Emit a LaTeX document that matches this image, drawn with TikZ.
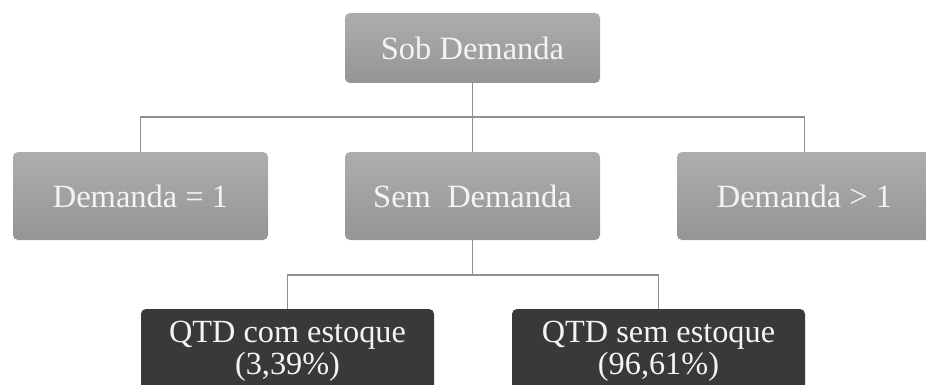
\documentclass[tikz,border=0pt]{standalone}
\usepackage{fontspec}
\setmainfont{Liberation Serif}
\definecolor{boxtop}{HTML}{ADADAD}
\definecolor{boxbot}{HTML}{959595}
\definecolor{darkbox}{HTML}{3B3938}
\definecolor{linkgray}{HTML}{909090}
\definecolor{boxtext}{HTML}{F4F4F4}
\begin{document}
\begin{tikzpicture}[x=1pt,y=-1pt,
  greybox/.style={rectangle, rounded corners=5pt, draw=none,
    top color=boxtop, bottom color=boxbot, text=boxtext,
    minimum width=255pt, inner sep=0pt,
    font=\fontsize{32.5}{33}\selectfont, align=center},
  darkboxstyle/.style={rectangle, rounded corners=5pt, draw=none,
    fill=darkbox, minimum width=293pt, minimum height=88pt, inner sep=0pt},
  darktext/.style={text=boxtext, font=\fontsize{32.3}{32}\selectfont,
    align=center, anchor=north, inner sep=0pt},
  link/.style={draw=linkgray, line width=1.4pt}]
\useasboundingbox (0,0) rectangle (926,385);
\begin{scope}
\clip (0,0) rectangle (926,385);

% hierarchy boxes
\node[greybox, minimum height=70pt] (top) at (472.5,48) {Sob Demanda};
\node[greybox, minimum height=88pt] (left) at (140.5,196) {Demanda = 1};
\node[greybox, minimum height=88pt] (mid) at (472.5,196) {Sem\ \ Demanda};
\node[greybox, minimum height=88pt] (right) at (804.5,196) {Demanda > 1};
\node[darkboxstyle] (qcom) at (287.5,353) {};
\node[darkboxstyle] (qsem) at (658.5,353) {};
\node[darktext] (qcomtxt) at (287.5,321) {QTD com estoque\\(3,39\%)};
\node[darktext] (qsemtxt) at (658.5,321) {QTD sem estoque\\(96,61\%)};

% connectors
\coordinate (busA) at (472.5,117);
\coordinate (busB) at (472.5,275);
\draw[link] (top.south) -- (busA);
\draw[link] (left.north) |- (busA) -| (right.north);
\draw[link] (busA) -- (mid.north);
\draw[link] (mid.south) -- (busB);
\draw[link] (qcom.north) |- (busB) -| (qsem.north);
\end{scope}
\end{tikzpicture}
\end{document}
